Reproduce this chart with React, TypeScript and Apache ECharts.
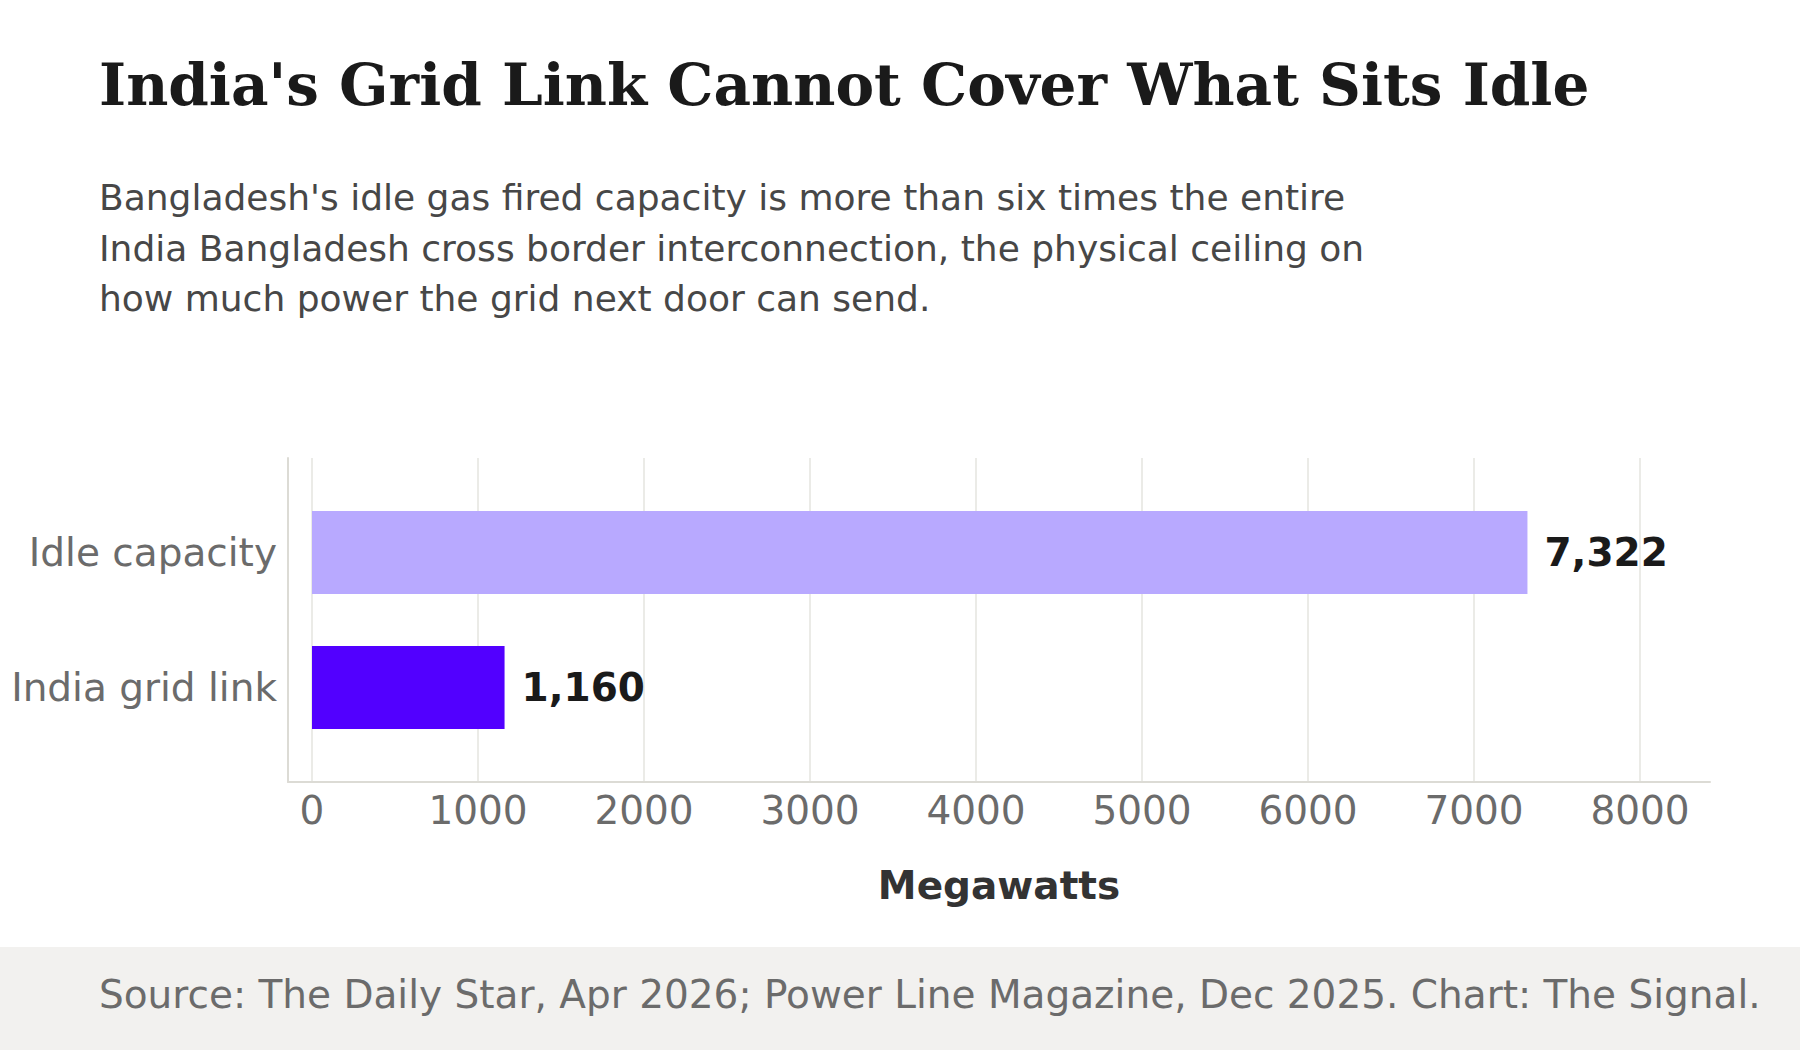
import { useEffect, useRef } from 'react';
import * as echarts from 'echarts';

const categories = ['Idle capacity', 'India grid link'];
const megawatts = [7322, 1160];
const barColors = ['#b8a9ff', '#5200ff'];
const axisMin = 0;
const axisMax = 8000;
const axisStep = 1000;

const title = "India's Grid Link Cannot Cover What Sits Idle";
const subtitleLines = [
  "Bangladesh's idle gas fired capacity is more than six times the entire",
  'India Bangladesh cross border interconnection, the physical ceiling on',
  'how much power the grid next door can send.',
];
const axisTitle = 'Megawatts';
const sourceNote = 'Source: The Daily Star, Apr 2026; Power Line Magazine, Dec 2025. Chart: The Signal.';

const SANS = '"DejaVu Sans", Verdana, sans-serif';
const SERIF = '"DejaVu Serif", Georgia, serif';

export default function App() {
  const chartRef = useRef<HTMLDivElement>(null);

  useEffect(() => {
    document.body.style.margin = '0';
    if (!chartRef.current) return;
    const chart = echarts.init(chartRef.current, undefined, { renderer: 'svg' });

    const axisLineStyle = { color: '#dcdbd5', width: 2 };

    const option = {
      animation: false,
      backgroundColor: '#ffffff',
      textStyle: { fontFamily: SANS },
      grid: [
        // outer frame (axis lines)
        { left: 288, top: 458, width: 1422, height: 324 },
        // tick labels + vertical gridlines
        { left: 312, top: 458, width: 1328, height: 324 },
        // bars
        { left: 312, top: 485, width: 1328, height: 270 },
      ],
      xAxis: [
        {
          gridIndex: 0,
          type: 'value',
          min: 0,
          max: 1,
          axisLine: { show: true, onZero: false, lineStyle: axisLineStyle },
          axisTick: { show: false },
          axisLabel: { show: false },
          splitLine: { show: false },
          name: axisTitle,
          nameLocation: 'middle',
          nameGap: 84,
          nameTextStyle: { fontSize: 39, fontWeight: 'bold', color: '#333333', fontFamily: SANS },
        },
        {
          gridIndex: 1,
          type: 'value',
          min: axisMin,
          max: axisMax,
          interval: axisStep,
          axisLine: { show: false },
          axisTick: { show: false },
          axisLabel: {
            fontSize: 39,
            color: '#6b6b6b',
            margin: 9,
            fontFamily: SANS,
            formatter: (v: number) => String(v),
          },
          splitLine: { show: true, lineStyle: { color: '#e5e4df', width: 1.5 } },
        },
        { gridIndex: 2, type: 'value', min: axisMin, max: axisMax, show: false },
      ],
      yAxis: [
        {
          gridIndex: 0,
          type: 'value',
          min: 0,
          max: 1,
          axisLine: { show: true, onZero: false, lineStyle: axisLineStyle },
          axisTick: { show: false },
          axisLabel: { show: false },
          splitLine: { show: false },
        },
        { gridIndex: 1, type: 'value', show: false },
        {
          gridIndex: 2,
          type: 'category',
          data: categories,
          inverse: true,
          axisLine: { show: false },
          axisTick: { show: false },
          axisLabel: { fontSize: 39, color: '#6b6b6b', margin: 35, fontFamily: SANS },
          splitLine: { show: false },
        },
      ],
      series: [
        {
          type: 'bar',
          xAxisIndex: 2,
          yAxisIndex: 2,
          barWidth: 83,
          data: megawatts.map((v, i) => ({ value: v, itemStyle: { color: barColors[i] } })),
          label: {
            show: true,
            position: 'right',
            distance: 17,
            fontSize: 39,
            fontWeight: 'bold',
            color: '#1a1a1a',
            fontFamily: SANS,
            formatter: (p: any) => Number(p.value).toLocaleString('en-US'),
          },
        },
      ],
      graphic: [
        {
          type: 'rect',
          left: 0,
          top: 947,
          z: -10,
          shape: { width: 1800, height: 103 },
          style: { fill: '#f2f1ef' },
        },
        {
          type: 'text',
          x: 99,
          y: 84.5,
          style: {
            text: title,
            font: `bold 58px ${SERIF}`,
            fill: '#1a1a1a',
            verticalAlign: 'middle',
          },
        },
        ...subtitleLines.map((line, i) => ({
          type: 'text',
          x: 99,
          y: 197.5 + i * 50.5,
          style: {
            text: line,
            font: `36px ${SANS}`,
            fill: '#474747',
            verticalAlign: 'middle',
          },
        })),
        {
          type: 'text',
          x: 99,
          y: 994,
          style: {
            text: sourceNote,
            font: `39px ${SANS}`,
            fill: '#6b6b6b',
            verticalAlign: 'middle',
          },
        },
      ],
    };

    chart.setOption(option);

    return () => {
      chart.dispose();
    };
  }, []);

  return <div ref={chartRef} style={{ width: '1800px', height: '1050px' }}></div>;
}
